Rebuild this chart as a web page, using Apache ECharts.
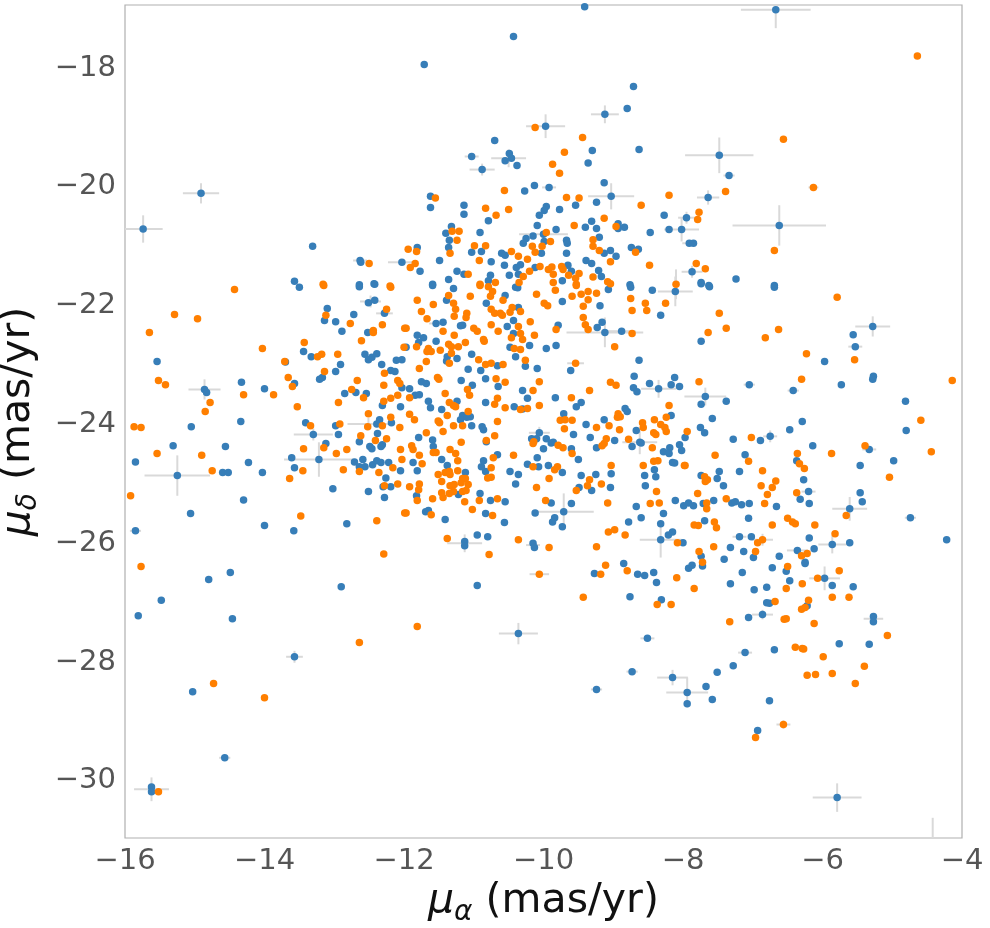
<!DOCTYPE html>
<html>
<head>
<meta charset="utf-8">
<script src="https://cdn.jsdelivr.net/npm/echarts@6/dist/echarts.min.js"></script>
<style>
  html, body { margin: 0; padding: 0; background: #fff; }
  #chart { width: 990px; height: 928px; }
</style>
</head>
<body>
<div id="chart"></div>
<script>
// tick labels
var xTicks = [-16, -14, -12, -10, -8, -6, -4];
var yTicks = [-30, -28, -26, -24, -22, -20, -18];

// blue sample [pmra, pmdec]
var blue = [
  [-15.74,-20.71],[-14.91,-20.11],[-13.31,-21.00],[-12.63,-21.24],[-12.62,-21.27],[-12.03,-21.27],[-13.57,-21.59],[-12.64,-21.65],[-12.43,-21.63],
  [-9.41,-16.97],[-10.43,-17.47],[-11.71,-17.94],[-8.71,-18.31],[-8.80,-18.68],[-9.12,-18.78],[-9.97,-18.98],[-10.70,-19.22],[-9.30,-19.39],[-8.63,-19.37],[-11.03,-19.49],[-10.49,-19.44],[-10.46,-19.52],[-10.55,-19.56],[-10.38,-19.64],[-9.36,-19.60],[-10.88,-19.71],[-9.13,-19.93],[-10.27,-20.07],[-10.13,-19.98],[-9.92,-20.01],[-11.62,-20.16],[-11.62,-20.35],[-9.03,-20.16],[-9.24,-20.26],[-11.14,-20.31],[-11.14,-20.46],[-9.96,-20.33],[-9.99,-20.40],[-9.77,-20.38],[-9.54,-20.31],[-10.79,-20.57],[-10.06,-20.48],[-8.27,-20.48],[-11.32,-20.67],[-10.09,-20.65],[-9.40,-20.68],[-9.31,-20.58],[-9.24,-20.70],[-8.93,-20.62],[-8.93,-20.70],[-8.84,-20.68],[-8.20,-20.72],[-8.02,-20.72],[-8.47,-20.77],[-11.40,-20.78],[-10.91,-20.77],[-9.82,-20.72],[-10.00,-20.80],[-11.35,-20.90],[-10.25,-20.87],[-10.15,-20.83],[-10.29,-20.95],[-9.99,-20.92],[-9.67,-20.90],[-9.66,-20.95],[-9.20,-20.85],[-11.81,-21.02],[-11.36,-21.02],[-11.03,-21.10],[-10.89,-21.09],[-10.03,-21.12],[-9.67,-21.12],[-9.13,-21.12],[-9.04,-21.07],[-8.96,-21.17],[-8.74,-21.02],[-8.64,-21.05],[-10.60,-21.12],[-10.55,-21.15],[-11.49,-21.24],[-10.75,-21.26],[-10.56,-21.32],[-10.39,-21.36],[-10.33,-21.31],[-10.12,-21.36],[-9.65,-21.32],[-9.60,-21.42],[-9.39,-21.24],[-9.31,-21.29],[-9.21,-21.41],[-9.17,-21.51],[-11.77,-21.42],[-11.24,-21.42],[-11.14,-21.47],[-11.36,-21.56],[-11.59,-21.64],[-10.76,-21.49],[-10.79,-21.58],[-10.49,-21.49],[-10.36,-21.47],[-9.73,-21.58],[-8.76,-21.65],
  [-6.67,-17.02],[-7.48,-19.47],[-7.34,-19.81],[-7.64,-20.18],[-7.95,-20.52],[-6.62,-20.65],[-7.91,-20.95],[-7.85,-20.95],[-7.87,-21.43],[-7.24,-21.55],[-7.74,-21.61],[-7.63,-21.66],[-6.69,-21.66],
  [-15.54,-22.94],[-14.86,-23.41],[-14.83,-23.46],[-14.33,-23.29],[-14.00,-23.40],[-13.70,-22.95],[-13.57,-23.31],[-13.44,-22.77],[-13.33,-22.86],[-13.21,-23.24],[-13.17,-23.21],[-12.91,-22.99],[-12.98,-23.11],[-13.10,-22.05],[-13.14,-22.25],[-12.98,-22.27],[-12.72,-22.15],[-12.89,-22.43],[-12.52,-22.45],[-12.28,-22.13],[-12.51,-21.95],[-12.42,-21.91],[-12.64,-21.68],[-12.42,-21.64],[-13.50,-21.69],[-12.56,-22.82],[-12.46,-22.87],[-12.39,-22.81],[-12.51,-22.91],[-12.32,-22.99],[-12.19,-23.09],[-12.13,-23.11],[-12.11,-22.92],[-12.03,-22.91],[-12.03,-23.38],[-12.85,-23.48],[-12.69,-23.46],[-12.54,-23.48],[-12.31,-23.68],[-12.05,-23.70],[-12.35,-23.92],[-12.39,-23.99],[-12.18,-23.97],[-13.41,-23.97],[-12.98,-24.02],[-13.30,-24.17],[-12.94,-24.17],[-12.38,-24.15],[-12.64,-24.29],[-12.31,-24.34],[-12.33,-24.37],[-12.49,-24.37],[-12.46,-24.41],[-13.12,-24.32],[-13.22,-24.59],[-13.61,-24.56],[-13.57,-24.73],[-12.71,-24.63],[-12.59,-24.59],[-12.64,-24.71],[-12.56,-24.71],[-12.45,-24.68],[-12.39,-24.61],[-12.33,-24.64],[-12.22,-24.64],[-12.05,-24.78],[-12.26,-24.90],[-12.30,-25.05],[-12.19,-25.05],[-13.02,-25.08],[-12.51,-25.13],[-12.28,-25.23],[-12.82,-25.67],[-13.58,-25.79],[-14.00,-25.70],[-14.34,-23.95],[-14.56,-24.37],[-14.23,-24.64],[-14.03,-24.81],[-14.60,-24.81],[-14.52,-24.81],[-15.05,-24.04],[-15.31,-24.36],[-15.85,-24.63],[-15.25,-24.86],[-14.30,-25.27],[-15.06,-25.50],[-15.85,-25.79],
  [-11.59,-21.66],[-11.29,-21.71],[-11.39,-21.91],[-10.82,-21.96],[-10.55,-21.83],[-10.40,-21.69],[-10.37,-21.70],[-10.36,-22.03],[-9.73,-21.93],[-9.19,-22.00],[-9.07,-21.73],[-8.75,-21.69],[-8.44,-21.74],[-8.11,-21.76],[-8.32,-22.16],[-9.23,-22.37],[-9.16,-22.28],[-9.12,-22.45],[-8.88,-22.43],[-9.79,-22.33],[-10.52,-22.35],[-10.43,-22.25],[-11.16,-22.33],[-11.19,-22.34],[-11.54,-22.30],[-11.44,-22.28],[-11.81,-22.50],[-11.72,-22.54],[-11.79,-22.62],[-11.54,-22.60],[-11.38,-22.86],[-11.39,-22.93],[-11.24,-22.89],[-11.03,-22.82],[-10.66,-23.01],[-10.43,-22.47],[-10.20,-22.67],[-10.48,-22.70],[-10.40,-22.86],[-10.26,-23.02],[-10.09,-23.06],[-9.96,-22.72],[-9.82,-22.67],[-9.61,-23.09],[-8.63,-22.92],[-11.97,-22.70],[-11.08,-23.07],[-10.90,-23.09],[-11.18,-23.26],[-11.02,-23.34],[-10.83,-23.23],[-11.75,-23.28],[-11.68,-23.31],[-11.92,-23.40],[-11.84,-23.51],[-11.78,-23.50],[-10.65,-23.36],[-10.30,-23.43],[-10.23,-23.56],[-10.83,-23.63],[-11.65,-23.61],[-11.24,-23.61],[-11.62,-23.72],[-11.46,-23.75],[-10.42,-23.70],[-10.30,-23.74],[-9.83,-23.55],[-9.53,-23.70],[-9.46,-23.63],[-8.71,-23.38],[-8.66,-23.45],[-8.48,-23.31],[-8.35,-23.40],[-8.17,-23.33],[-8.12,-23.21],[-8.05,-23.36],[-8.70,-23.19],[-8.83,-23.73],[-8.80,-23.78],[-8.17,-23.85],[-8.67,-24.10],[-9.13,-23.92],[-9.39,-24.00],[-9.71,-23.82],[-9.57,-24.17],[-9.33,-24.22],[-9.24,-24.39],[-8.98,-24.27],[-8.62,-24.30],[-8.60,-24.31],[-8.73,-24.37],[-8.28,-24.46],[-8.19,-24.39],[-8.20,-24.49],[-8.05,-24.34],[-8.02,-24.44],[-8.15,-24.64],[-8.12,-24.65],[-8.55,-24.86],[-8.41,-24.76],[-8.39,-24.88],[-8.54,-25.03],[-9.03,-24.83],[-9.25,-24.84],[-9.46,-24.86],[-9.49,-25.06],[-9.31,-25.11],[-9.04,-25.06],[-8.67,-25.38],[-8.28,-25.50],[-8.60,-25.57],[-8.78,-25.64],[-8.11,-25.28],[-7.99,-25.37],[-8.32,-25.67],[-8.15,-25.81],[-8.21,-25.86],[-8.32,-25.94],[-8.00,-25.99],[-10.07,-24.71],[-10.17,-24.24],[-10.10,-24.24],[-10.06,-24.14],[-9.96,-24.24],[-9.89,-24.31],[-9.86,-24.30],[-9.60,-24.41],[-10.00,-24.41],[-10.09,-24.56],[-9.50,-24.59],[-10.23,-24.67],[-9.93,-24.69],[-9.73,-24.81],[-10.36,-24.84],[-10.48,-24.79],[-10.40,-25.00],[-10.66,-24.51],[-10.83,-24.79],[-10.89,-24.71],[-10.86,-24.61],[-11.12,-24.81],[-10.82,-24.29],[-10.86,-24.09],[-10.88,-24.04],[-11.03,-24.02],[-11.05,-23.87],[-11.16,-23.85],[-11.19,-23.92],[-11.10,-23.88],[-11.79,-24.22],[-11.59,-24.26],[-11.58,-24.37],[-11.46,-24.59],[-11.87,-24.64],[-11.81,-24.78],[-11.38,-24.69],[-11.82,-25.20],[-11.22,-25.18],[-10.91,-25.16],[-10.76,-25.28],[-10.55,-25.30],[-10.83,-25.50],[-10.56,-25.65],[-11.41,-25.60],[-11.69,-25.47],[-11.65,-25.45],[-10.95,-25.86],[-10.80,-25.89],[-11.13,-25.97],[-11.13,-26.04],[-10.15,-26.00],[-10.13,-26.07],[-10.12,-25.49],[-9.89,-25.32],[-9.60,-25.33],[-9.71,-25.47],[-9.84,-25.57],[-9.87,-25.64],[-9.73,-25.72],
  [-7.74,-21.63],[-7.62,-21.68],[-6.69,-21.69],[-7.74,-22.60],[-5.28,-22.35],[-5.56,-22.49],[-5.53,-22.69],[-5.97,-22.94],[-5.27,-23.19],[-5.28,-23.24],[-5.73,-23.33],[-6.42,-23.43],[-7.05,-23.33],[-7.68,-23.53],[-7.74,-23.66],[-7.38,-23.61],[-4.81,-23.61],[-4.80,-24.10],[-7.58,-23.90],[-7.75,-24.05],[-7.69,-24.14],[-7.97,-24.22],[-7.28,-24.25],[-6.89,-24.27],[-6.75,-24.20],[-6.47,-24.09],[-6.29,-23.95],[-6.14,-24.36],[-5.33,-24.42],[-4.98,-24.61],[-5.46,-24.69],[-7.11,-24.51],[-6.37,-24.61],[-7.19,-24.79],[-7.48,-24.79],[-7.74,-24.86],[-7.51,-24.91],[-7.42,-25.03],[-6.27,-24.93],[-6.20,-25.13],[-6.32,-25.26],[-6.19,-25.33],[-7.92,-25.32],[-7.85,-25.37],[-7.71,-25.33],[-7.56,-25.28],[-7.30,-25.32],[-7.25,-25.30],[-7.16,-25.35],[-7.05,-25.33],[-6.66,-25.38],[-7.06,-25.58],[-7.69,-25.62],[-5.61,-25.42],[-5.46,-25.15],[-5.43,-25.30],[-4.74,-25.57],[-6.19,-25.91],[-7.19,-25.89],[-7.02,-25.89],[-7.32,-26.07],[-7.13,-26.14],[-6.99,-26.24],[-6.62,-26.22],[-6.36,-26.12],[-6.12,-26.09],[-5.86,-26.02],[-5.61,-25.99],[-4.22,-25.94],[-7.74,-26.22],[-7.41,-26.27],[-6.25,-26.32],
  [-14.49,-26.49],[-14.80,-26.61],[-12.90,-26.73],[-15.48,-26.96],[-15.81,-27.22],[-14.46,-27.27],[-13.57,-27.91],[-15.03,-28.50],[-14.57,-29.61],[-15.62,-30.10],[-15.62,-30.18],
  [-10.95,-26.71],[-10.36,-27.52],[-9.27,-26.51],[-8.85,-26.34],[-8.65,-26.52],[-8.55,-26.54],[-8.42,-26.49],[-8.38,-26.66],[-8.76,-26.90],[-8.31,-26.95],[-8.51,-27.60],[-8.73,-28.16],[-9.24,-28.46],[-8.15,-28.26],
  [-7.92,-26.42],[-7.87,-26.37],[-7.72,-26.38],[-7.15,-26.49],[-6.72,-26.41],[-6.52,-26.47],[-6.25,-26.34],[-5.97,-26.59],[-7.32,-26.68],[-6.98,-26.78],[-6.80,-26.74],[-6.47,-26.63],[-5.86,-26.71],[-5.56,-26.73],[-6.80,-27.00],[-6.76,-27.01],[-6.22,-27.05],[-6.86,-27.20],[-7.06,-27.25],[-5.27,-27.23],[-5.27,-27.32],[-5.76,-27.69],[-5.33,-27.70],[-7.11,-27.84],[-6.69,-27.79],[-7.28,-28.06],[-7.51,-28.17],[-7.67,-28.41],[-7.94,-28.51],[-7.94,-28.70],[-7.58,-28.63],[-6.76,-28.65],[-6.93,-29.15],[-5.79,-30.28],[-4.42,-31.30]
];

// orange sample [pmra, pmdec]
var orange = [
  [-12.50,-21.29],[-13.16,-21.64],[-12.20,-21.67],
  [-10.12,-19.00],[-9.44,-19.17],[-9.70,-19.42],[-9.87,-19.62],[-9.77,-19.77],[-10.56,-20.06],[-11.55,-20.19],[-9.67,-20.18],[-9.49,-20.19],[-8.60,-20.31],[-8.20,-20.14],[-10.83,-20.36],[-10.50,-20.38],[-10.68,-20.48],[-9.13,-20.53],[-9.56,-20.65],[-8.96,-20.67],[-11.31,-20.75],[-11.21,-20.75],[-9.96,-20.77],[-11.24,-20.90],[-9.90,-20.92],[-9.29,-20.89],[-11.94,-21.05],[-11.82,-21.09],[-11.34,-21.12],[-10.99,-20.99],[-10.83,-20.99],[-10.16,-21.00],[-10.12,-21.10],[-10.02,-21.00],[-9.29,-21.00],[-9.20,-21.07],[-8.68,-21.10],[-10.46,-21.09],[-10.36,-21.17],[-10.23,-21.22],[-11.84,-21.29],[-11.91,-21.36],[-10.92,-21.24],[-10.20,-21.42],[-10.05,-21.34],[-9.93,-21.39],[-9.88,-21.35],[-9.86,-21.47],[-9.74,-21.34],[-9.72,-21.39],[-9.64,-21.49],[-9.49,-21.46],[-9.04,-21.26],[-8.48,-21.32],[-11.08,-21.47],[-10.91,-21.64],[-10.69,-21.61],[-10.29,-21.51],[-10.35,-21.61],[-9.86,-21.61],[-9.54,-21.54],[-9.53,-21.64],[-9.29,-21.52],[-9.08,-21.60],[-9.04,-21.63],[-8.10,-21.64],
  [-4.64,-17.80],[-6.56,-19.20],[-7.39,-20.08],[-6.13,-20.01],[-7.77,-20.43],[-7.79,-20.55],[-6.69,-21.07],[-7.81,-21.29],[-7.68,-21.38],
  [-14.43,-21.73],[-15.29,-22.15],[-14.96,-22.22],[-15.65,-22.45],[-15.52,-23.26],[-15.42,-23.33],[-14.78,-23.63],[-14.85,-23.78],[-14.30,-23.50],[-13.87,-23.50],[-14.03,-22.72],[-13.53,-23.70],[-13.71,-22.94],[-13.66,-23.21],[-13.60,-23.36],[-13.43,-22.62],[-13.24,-22.86],[-13.18,-22.82],[-13.14,-23.11],[-12.95,-22.82],[-13.12,-22.16],[-12.77,-22.30],[-12.61,-22.59],[-12.44,-22.42],[-12.44,-22.45],[-12.31,-22.32],[-12.25,-22.06],[-12.19,-21.69],[-13.15,-21.66],[-11.99,-22.38],[-12.00,-22.70],[-12.28,-23.14],[-12.09,-23.26],[-12.06,-23.31],[-12.29,-23.34],[-12.67,-23.26],[-12.75,-23.41],[-12.58,-23.55],[-12.94,-23.63],[-12.29,-23.61],[-12.19,-23.56],[-12.09,-23.51],[-12.51,-23.82],[-12.19,-23.88],[-12.52,-24.04],[-12.31,-24.02],[-12.06,-24.05],[-13.34,-24.02],[-12.92,-23.99],[-12.62,-24.19],[-12.41,-24.27],[-12.25,-24.24],[-12.05,-24.42],[-12.03,-24.59],[-13.15,-24.39],[-13.44,-24.41],[-12.82,-24.42],[-12.97,-24.49],[-13.45,-24.78],[-13.64,-24.91],[-12.16,-24.73],[-12.64,-24.79],[-12.87,-24.76],[-12.36,-24.81],[-12.28,-25.03],[-12.09,-25.00],[-12.39,-25.62],[-11.99,-25.49],[-13.48,-25.54],[-12.29,-26.18],[-14.75,-24.78],[-14.90,-24.52],[-15.54,-24.49],[-15.87,-24.04],[-15.77,-24.05],[-15.92,-25.20],
  [-10.91,-21.66],[-10.79,-21.68],[-10.73,-21.76],[-10.76,-21.84],[-11.05,-21.84],[-11.36,-21.83],[-11.81,-21.91],[-11.58,-21.98],[-11.75,-22.10],[-11.67,-22.22],[-11.29,-21.96],[-11.26,-22.06],[-11.28,-22.18],[-11.10,-22.13],[-11.11,-22.20],[-10.75,-22.06],[-10.70,-22.13],[-10.59,-22.16],[-10.62,-22.13],[-10.58,-21.91],[-10.45,-22.03],[-10.33,-22.10],[-10.48,-22.11],[-10.10,-21.81],[-9.83,-21.74],[-9.99,-21.96],[-9.94,-22.00],[-9.53,-21.66],[-9.59,-21.84],[-9.46,-21.81],[-9.36,-21.76],[-9.24,-21.79],[-9.36,-21.90],[-9.43,-22.01],[-8.75,-21.88],[-8.54,-21.96],[-8.52,-22.08],[-8.73,-22.08],[-8.25,-21.96],[-9.43,-22.20],[-9.40,-22.32],[-9.36,-22.40],[-8.73,-22.47],[-9.82,-22.40],[-10.19,-22.27],[-10.36,-22.35],[-10.75,-22.32],[-10.65,-22.43],[-10.95,-22.43],[-10.86,-22.57],[-10.85,-22.60],[-11.00,-22.38],[-11.44,-22.43],[-11.97,-22.38],[-11.28,-22.50],[-11.36,-22.65],[-11.32,-22.69],[-11.22,-22.69],[-11.12,-22.62],[-11.82,-22.69],[-11.65,-22.72],[-11.61,-22.77],[-11.67,-22.77],[-11.48,-22.75],[-11.35,-22.97],[-11.32,-22.80],[-10.93,-22.91],[-10.83,-22.99],[-10.75,-22.97],[-10.58,-22.99],[-10.46,-22.54],[-10.33,-22.47],[-10.30,-22.57],[-10.13,-22.50],[-10.42,-22.72],[-10.33,-22.74],[-10.26,-22.92],[-9.54,-22.97],[-8.98,-22.69],[-11.78,-23.06],[-11.68,-22.94],[-11.52,-23.21],[-11.50,-23.24],[-10.68,-23.23],[-10.55,-23.29],[-11.09,-23.41],[-11.92,-23.55],[-11.41,-23.48],[-11.06,-23.51],[-10.15,-23.43],[-10.06,-23.28],[-10.66,-23.56],[-10.70,-23.66],[-11.35,-23.63],[-11.29,-23.68],[-11.26,-23.70],[-11.08,-23.78],[-10.55,-23.72],[-10.33,-23.75],[-10.23,-23.73],[-10.06,-23.68],[-9.60,-23.55],[-9.34,-23.43],[-9.04,-23.29],[-8.96,-23.34],[-8.20,-23.68],[-8.93,-23.82],[-8.90,-23.87],[-8.94,-23.88],[-8.24,-23.88],[-8.41,-23.92],[-8.58,-23.97],[-8.57,-24.05],[-8.32,-24.00],[-8.26,-24.05],[-8.24,-24.12],[-8.42,-24.14],[-8.39,-24.17],[-9.06,-24.02],[-8.91,-24.09],[-9.24,-24.05],[-9.76,-23.93],[-9.69,-23.92],[-9.59,-23.93],[-9.70,-24.07],[-9.10,-24.24],[-9.13,-24.32],[-9.16,-24.36],[-8.78,-24.25],[-8.44,-24.39],[-7.98,-24.69],[-8.42,-24.62],[-8.36,-24.61],[-8.57,-24.69],[-9.03,-24.69],[-9.34,-24.93],[-9.37,-25.03],[-9.17,-25.00],[-9.53,-25.11],[-9.08,-25.32],[-8.38,-25.13],[-8.47,-25.33],[-8.34,-25.32],[-8.08,-25.99],[-9.07,-25.81],[-8.98,-25.77],[-8.83,-25.86],[-9.24,-26.06],[-10.15,-24.32],[-10.14,-24.29],[-9.79,-24.35],[-9.72,-24.39],[-9.59,-24.49],[-10.15,-24.71],[-9.80,-24.71],[-9.84,-24.76],[-9.92,-24.91],[-10.10,-25.06],[-10.43,-24.52],[-10.72,-24.56],[-10.75,-24.73],[-10.80,-24.90],[-10.75,-24.89],[-10.70,-24.19],[-10.66,-23.95],[-10.82,-24.27],[-11.16,-24.02],[-11.29,-24.02],[-11.38,-23.85],[-11.49,-23.97],[-11.51,-23.94],[-11.44,-24.12],[-11.68,-24.14],[-11.92,-23.83],[-11.85,-23.92],[-11.89,-24.36],[-11.87,-24.42],[-11.58,-24.47],[-11.54,-24.47],[-11.34,-24.42],[-11.18,-24.30],[-11.26,-24.49],[-11.78,-24.52],[-11.74,-24.66],[-11.23,-24.61],[-11.35,-24.79],[-11.23,-24.78],[-11.51,-24.84],[-11.41,-24.81],[-11.34,-24.84],[-11.12,-24.91],[-11.16,-24.91],[-11.46,-24.96],[-11.78,-25.00],[-11.92,-25.05],[-11.79,-25.10],[-11.81,-25.28],[-11.59,-25.25],[-11.46,-25.15],[-11.44,-25.23],[-11.34,-25.03],[-11.28,-25.01],[-11.29,-25.13],[-11.35,-25.16],[-11.18,-24.98],[-11.16,-25.13],[-11.11,-25.11],[-11.08,-25.01],[-11.13,-25.30],[-10.92,-25.28],[-10.66,-25.25],[-11.02,-25.43],[-10.73,-25.53],[-11.61,-25.52],[-11.97,-25.49],[-11.38,-25.92],[-10.36,-25.94],[-10.78,-26.19],[-9.92,-26.07],[-9.97,-25.28],
  [-5.79,-21.86],[-7.48,-22.13],[-7.64,-22.45],[-7.38,-22.38],[-6.82,-22.54],[-6.63,-22.40],[-5.54,-22.91],[-6.23,-22.81],[-4.14,-23.26],[-6.30,-23.24],[-7.77,-23.28],[-4.59,-23.93],[-4.44,-24.46],[-7.94,-24.12],[-7.02,-24.22],[-5.87,-24.49],[-5.39,-24.36],[-5.04,-24.89],[-7.54,-24.52],[-7.06,-24.62],[-6.36,-24.49],[-6.33,-24.66],[-6.26,-24.74],[-6.86,-24.78],[-7.69,-24.88],[-7.65,-24.93],[-7.68,-24.96],[-7.97,-24.69],[-6.67,-24.95],[-6.88,-25.03],[-6.72,-25.06],[-6.79,-25.18],[-6.37,-25.15],[-7.79,-25.16],[-7.38,-25.25],[-7.66,-25.32],[-7.66,-25.42],[-6.83,-25.33],[-6.72,-25.69],[-6.50,-25.58],[-6.43,-25.64],[-6.39,-25.67],[-6.11,-25.69],[-7.84,-25.69],[-7.78,-25.70],[-7.55,-25.64],[-7.52,-25.74],[-5.66,-25.53],[-5.82,-25.84],[-6.93,-25.99],[-6.86,-25.94],[-7.56,-26.06],[-7.77,-26.14],[-6.96,-26.14],[-6.30,-26.21],[-6.22,-26.17],[-7.72,-26.32],
  [-15.77,-26.39],[-12.64,-27.67],[-14.73,-28.36],[-14.00,-28.60],[-15.52,-30.18],
  [-11.81,-27.40],[-10.06,-26.52],[-9.43,-26.91],[-9.18,-26.52],[-9.11,-26.37],[-8.80,-26.46],[-8.09,-26.58],[-8.37,-27.03],[-8.17,-27.03],
  [-6.50,-26.39],[-5.76,-26.46],[-6.07,-26.59],[-7.84,-26.76],[-6.52,-26.76],[-6.29,-26.68],[-5.86,-26.91],[-5.62,-26.91],[-6.68,-26.98],[-6.20,-26.96],[-6.30,-27.11],[-6.25,-27.08],[-7.33,-27.32],[-6.55,-27.28],[-6.52,-27.27],[-6.12,-27.35],[-5.07,-27.55],[-6.39,-27.75],[-6.29,-27.77],[-6.27,-27.78],[-5.99,-27.91],[-5.40,-28.07],[-6.22,-28.22],[-6.10,-28.21],[-5.86,-28.19],[-5.53,-28.36],[-6.56,-29.05],[-6.96,-29.27]
];

// visible error bars [pmra, pmdec, err_pmra, err_pmdec]
var errBars = [
  [-15.74,-20.71,0.28,0.23],[-14.91,-20.11,0.26,0.17],[-12.03,-21.27,0.20,0.05],[-12.63,-21.24,0.10,0.03],
  [-9.97,-18.98,0.28,0.20],[-9.12,-18.78,0.20,0.15],[-10.50,-19.52,0.25,0.15],[-10.88,-19.71,0.18,0.10],[-11.03,-19.49,0.10,0.03],
  [-9.92,-20.01,0.10,0.03],[-9.03,-20.16,0.33,0.22],[-8.02,-20.72,0.25,0.20],[-10.00,-20.80,0.35,0.05],[-8.10,-21.64,0.05,0.25],
  [-6.67,-17.02,0.50,0.31],[-7.48,-19.47,0.49,0.30],[-7.34,-19.81,0.08,0.03],[-7.64,-20.18,0.16,0.12],[-7.95,-20.52,0.12,0.10],
  [-6.62,-20.65,0.67,0.34],[-7.87,-21.43,0.15,0.10],[-6.13,-20.01,0.07,0.05],[-7.91,-20.95,0.10,0.03],
  [-14.86,-23.41,0.23,0.17],[-13.30,-24.17,0.28,0.10],[-13.22,-24.59,0.50,0.29],[-15.25,-24.86,0.47,0.34],[-12.51,-23.99,0.30,0.10],
  [-12.48,-21.93,0.15,0.10],[-12.28,-22.13,0.12,0.03],[-15.85,-25.79,0.08,0.02],[-12.56,-24.71,0.12,0.05],
  [-9.12,-22.45,0.55,0.25],[-9.54,-22.97,0.12,0.05],[-8.35,-23.40,0.25,0.15],[-8.11,-21.76,0.25,0.25],[-11.13,-26.00,0.25,0.15],
  [-9.71,-25.47,0.43,0.31],[-10.15,-26.03,0.10,0.05],[-8.62,-24.30,0.25,0.20],[-8.32,-25.94,0.30,0.30],[-10.06,-24.14,0.15,0.10],
  [-11.54,-22.30,0.10,0.05],[-8.88,-22.43,0.20,0.05],
  [-5.28,-22.35,0.25,0.17],[-7.68,-23.53,0.30,0.15],[-5.61,-25.42,0.25,0.20],[-5.86,-26.02,0.20,0.15],[-6.75,-24.20,0.10,0.10],
  [-5.33,-24.42,0.10,0.05],[-6.20,-25.13,0.10,0.05],[-7.19,-25.89,0.10,0.05],[-6.86,-25.94,0.15,0.10],[-6.36,-26.12,0.15,0.05],
  [-6.42,-23.43,0.08,0.03],[-7.05,-23.33,0.08,0.03],[-5.53,-22.69,0.10,0.05],[-4.74,-25.57,0.08,0.03],
  [-13.57,-27.91,0.12,0.10],[-15.62,-30.14,0.25,0.20],[-14.57,-29.61,0.08,0.02],
  [-10.36,-27.52,0.28,0.18],[-10.06,-26.52,0.14,0.05],[-8.15,-28.26,0.22,0.13],[-8.51,-27.60,0.10,0.03],[-8.73,-28.16,0.08,0.03],[-9.24,-28.46,0.08,0.03],
  [-5.79,-30.28,0.35,0.24],[-5.97,-26.59,0.22,0.20],[-5.27,-27.27,0.14,0.07],[-6.86,-27.20,0.15,0.08],[-7.94,-28.51,0.30,0.25],
  [-7.11,-27.84,0.10,0.03],[-6.56,-29.05,0.10,0.07],[-4.42,-31.30,0.02,0.68]
];

(function () {
    var myChart = echarts.init(document.getElementById('chart'));
    var fmt = function (v) { return String(v).replace('-', '\u2212'); };

    function renderErr(params, api) {
        var x = api.value(0), y = api.value(1), ex = api.value(2), ey = api.value(3);
        var l = api.coord([x - ex, y]), r = api.coord([x + ex, y]);
        var t = api.coord([x, y + ey]), b = api.coord([x, y - ey]);
        var st = { stroke: '#d9d9d9', lineWidth: 2 };
        return {
            type: 'group',
            children: [
                { type: 'line', shape: { x1: l[0], y1: l[1], x2: r[0], y2: r[1] }, style: st },
                { type: 'line', shape: { x1: t[0], y1: t[1], x2: b[0], y2: b[1] }, style: st }
            ]
        };
    }

    // 轴标题 μ + 下标
    var titleRich = {
        mu: { fontSize: 41, fontStyle: 'italic', color: '#111', fontFamily: 'DejaVu Sans' },
        sub: { fontSize: 28, fontStyle: 'italic', color: '#111', fontFamily: 'DejaVu Sans', padding: [22, 0, 0, 0] },
        n: { fontSize: 41, color: '#111', fontFamily: 'DejaVu Sans' }
    };

    var option = {
        animation: false,
        backgroundColor: '#fff',
        textStyle: { fontFamily: 'DejaVu Sans' },
        grid: {
            left: 125, right: 28, top: 5, bottom: 90,
            outerBoundsMode: 'none',
            containLabel: false,
            show: true,
            borderColor: '#b0b0b0',
            borderWidth: 1.2
        },
        xAxis: {
            type: 'value',
            min: -16, max: -4, interval: 2,
            axisLine: { show: false },
            axisTick: { show: false },
            splitLine: { show: false },
            axisLabel: {
                formatter: fmt, fontSize: 29, color: '#555', margin: 9,
                fontFamily: 'DejaVu Sans'
            },
            name: '{mu|\u03bc}{sub|\u03b1}{n| (mas/yr)}',
            nameLocation: 'middle',
            nameGap: 34,
            nameTextStyle: { rich: titleRich }
        },
        yAxis: {
            type: 'value',
            min: -30.96, max: -16.94,
            axisLine: { show: false },
            axisTick: { show: false },
            splitLine: { show: false },
            axisLabel: {
                customValues: yTicks,
                formatter: fmt, fontSize: 29, color: '#555', margin: 9,
                fontFamily: 'DejaVu Sans'
            },
            name: '{mu|\u03bc}{sub|\u03b4}{n| (mas/yr)}',
            nameLocation: 'middle',
            nameGap: 82,
            nameTextStyle: { rich: titleRich }
        },
        series: [
            {
                type: 'custom',
                renderItem: renderErr,
                data: errBars,
                encode: { x: 0, y: 1 },
                clip: true,
                z: 1,
                silent: true
            },
            {
                name: 'blue',
                type: 'scatter',
                data: blue,
                symbolSize: 7.5,
                itemStyle: { color: '#377eb8', opacity: 1 },
                clip: true,
                z: 2
            },
            {
                name: 'orange',
                type: 'scatter',
                data: orange,
                symbolSize: 7.5,
                itemStyle: { color: '#ff7f00', opacity: 1 },
                clip: true,
                z: 3
            }
        ]
    };

    myChart.setOption(option);
})();
</script>
</body>
</html>
